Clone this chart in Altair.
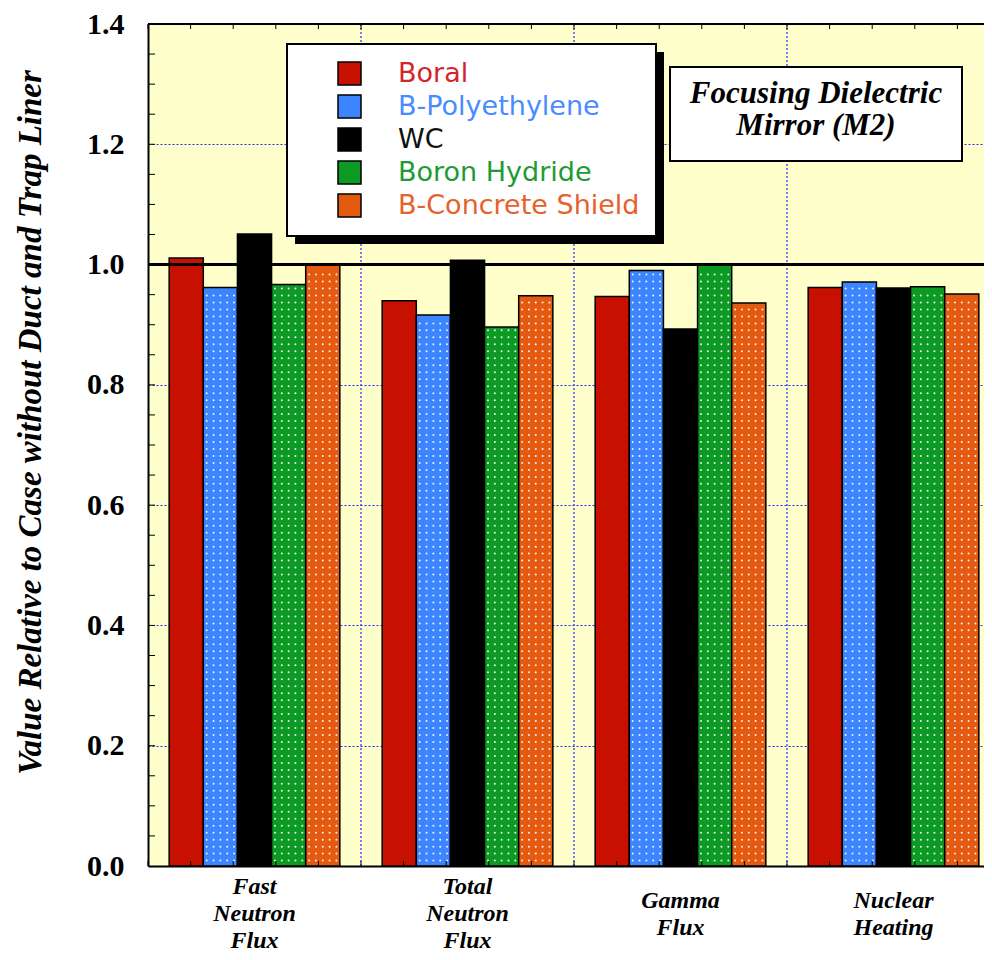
import altair as alt
import pandas as pd

# ---------------- data ----------------
groups = ["Fast Neutron Flux", "Total Neutron Flux", "Gamma Flux", "Nuclear Heating"]
materials = ["Boral", "B-Polyethylene", "WC", "Boron Hydride", "B-Concrete Shield"]
boral = [1.011, 0.940, 0.947, 0.962]
b_polyethylene = [0.962, 0.916, 0.990, 0.971]
wc = [1.051, 1.007, 0.893, 0.961]
boron_hydride = [0.967, 0.896, 0.999, 0.963]
b_concrete = [0.999, 0.948, 0.936, 0.951]
dotted_materials = ["B-Polyethylene", "Boron Hydride", "B-Concrete Shield"]
y_tick_values = [0.0, 0.2, 0.4, 0.6, 0.8, 1.0, 1.2, 1.4]
reference_level = [1.0]
note_lines = ["Focusing Dielectric", "Mirror (M2)"]
y_title = "Value Relative to Case without Duct and Trap Liner"

bar_colors = ["#c81000", "#3d85ff", "#000000", "#0c9a24", "#e45a10"]
label_colors = ["#d2262a", "#4a8cff", "#111111", "#1e9b34", "#e8602c"]

series = [boral, b_polyethylene, wc, boron_hydride, b_concrete]
rows = []
for m, vals in zip(materials, series):
    for g, v in zip(groups, vals):
        rows.append({"group": g, "material": m, "value": v})
df = pd.DataFrame(rows)

W, H = 836, 842
GRID_BLUE = "#2a2aff"
SERIF = "Liberation Serif"
PAD_OUT = 0.62

x_scale = alt.Scale(domain=groups, range=[0, 852], paddingInner=0, paddingOuter=0)
xoff_scale = alt.Scale(domain=materials, paddingInner=0, paddingOuter=PAD_OUT)
y_scale = alt.Scale(domain=[0, 1.4], nice=False, zero=True)

label_color_expr = " : ".join(
    [f"datum.label == '{m}' ? '{c}'" for m, c in zip(materials[:-1], label_colors[:-1])]
) + f" : '{label_colors[-1]}'"

x_axis = alt.Axis(
    labels=False, ticks=False, tickSize=0, domainColor="black", domainWidth=2,
    grid=False, title=None,
)
y_axis = alt.Axis(
    values=y_tick_values, format=".1f",
    labelFont=SERIF, labelFontWeight="bold", labelFontSize=30,
    labelColor="black", labelPadding=24,
    ticks=False, tickSize=0, domainColor="black", domainWidth=2,
    grid=True, gridColor=GRID_BLUE, gridDash=[2, 2], gridWidth=1.2,
    title=y_title, titleFont=SERIF, titleFontStyle="italic",
    titleFontWeight="bold", titleFontSize=33, titleColor="black",
    titleX=-118, titleY=398, titleAngle=270, titleAlign="center",
    titleBaseline="middle",
)

# vertical dotted grid at group boundaries
vgrid = alt.Chart(pd.DataFrame({"group": groups[1:]})).mark_rule(
    color=GRID_BLUE, strokeDash=[2, 2], strokeWidth=1.2
).encode(x=alt.X("group:N", scale=x_scale, bandPosition=0, axis=x_axis, title=None))

bars = alt.Chart(df).mark_bar(stroke="black", strokeWidth=1.5).encode(
    x=alt.X("group:N", scale=x_scale, axis=x_axis, title=None),
    xOffset=alt.XOffset("material:N", scale=xoff_scale),
    y=alt.Y("value:Q", scale=y_scale, axis=y_axis, title=y_title),
    color=alt.Color(
        "material:N",
        scale=alt.Scale(domain=materials, range=bar_colors),
        legend=alt.Legend(
            title=None, orient="none", legendX=139, legendY=20,
            symbolType="square", symbolSize=529,
            symbolStrokeColor="black", symbolStrokeWidth=1.5,
            symbolOffset=33, labelOffset=35,
            labelFont="DejaVu Sans", labelFontSize=27,
            labelColor={"expr": label_color_expr},
            labelLimit=400, padding=16, rowPadding=4,
            fillColor="white", strokeColor="black",
        ),
    ),
)

# white dot texture on the patterned materials (5 columns per bar)
n_mat = len(materials)
mat_list = "[" + ", ".join(f"'{m}'" for m in materials) + "]"
dots = (
    alt.Chart(df)
    .transform_filter(alt.FieldOneOfPredicate(field="material", oneOf=dotted_materials))
    .transform_calculate(col="sequence(0, 5)")
    .transform_flatten(["col"])
    .transform_calculate(
        xo=f"{PAD_OUT} + indexof({mat_list}, datum.material) + (datum.col + 0.5) / 5",
        dy="sequence(0.009, datum.value - 0.005, 0.0116)",
    )
    .transform_flatten(["dy"])
    .mark_point(filled=True, color="white", size=4, opacity=0.9)
    .encode(
        x=alt.X("group:N", scale=x_scale, bandPosition=0, title=None),
        xOffset=alt.XOffset("xo:Q", scale=alt.Scale(domain=[0, n_mat + 2 * PAD_OUT], nice=False, zero=False)),
        y=alt.Y("dy:Q", scale=y_scale, title=y_title),
    )
)

# small inward ticks on top and bottom frame, 5 per group
tick_base = (
    alt.Chart(pd.DataFrame({"group": groups}))
    .transform_calculate(j="sequence(0, 5)")
    .transform_flatten(["j"])
)
tick_x = alt.X("group:N", scale=x_scale, bandPosition=0, title=None)
tick_off = alt.XOffset("j:Q", scale=alt.Scale(domain=[0, 5], nice=False, zero=True))
top_ticks = tick_base.mark_rule(color="black", strokeWidth=1).encode(
    x=tick_x, xOffset=tick_off, y=alt.value(0), y2=alt.value(5)
)
bottom_ticks = tick_base.mark_rule(color="black", strokeWidth=1).encode(
    x=tick_x, xOffset=tick_off, y=alt.value(H - 5), y2=alt.value(H)
)

# category labels under the axis (multi-line, vertically centred)
label_base = alt.Chart(pd.DataFrame({"group": groups})).transform_calculate(
    lines="split(datum.group, ' ')", n="length(split(datum.group, ' '))"
)
label_style = dict(
    font=SERIF, fontSize=24, fontStyle="italic", fontWeight="bold",
    lineHeight=27, align="center", baseline="top", color="black",
)
labels3 = label_base.transform_filter("datum.n == 3").mark_text(**label_style).encode(
    x=alt.X("group:N", scale=x_scale, title=None), y=alt.value(H + 9), text="lines:N"
)
labels2 = label_base.transform_filter("datum.n == 2").mark_text(**label_style).encode(
    x=alt.X("group:N", scale=x_scale, title=None), y=alt.value(H + 22.5), text="lines:N"
)

# inward minor ticks on the left frame
yticks = alt.Chart(alt.sequence(0.05, 1.4, 0.05, as_="t")).mark_rule(
    color="black", strokeWidth=1
).encode(y=alt.Y("t:Q", scale=y_scale, title=y_title), x=alt.value(0), x2=alt.value(7))

ref_rule = alt.Chart(pd.DataFrame({"level": reference_level})).mark_rule(
    color="black", strokeWidth=3
).encode(y=alt.Y("level:Q", scale=y_scale, title=y_title))

top_border = alt.Chart(pd.DataFrame({"top": [1.4]})).mark_rule(
    color="black", strokeWidth=2
).encode(y=alt.Y("top:Q", scale=y_scale, title=y_title))

one = pd.DataFrame({"k": [0]})
shadow = alt.Chart(one).mark_rect(color="black").encode(
    x=alt.value(147), x2=alt.value(516), y=alt.value(28), y2=alt.value(220)
)
note_box = alt.Chart(one).mark_rect(fill="white", stroke="black", strokeWidth=2).encode(
    x=alt.value(522), x2=alt.value(814), y=alt.value(43), y2=alt.value(137)
)
note_text = alt.Chart(one).mark_text(
    text=note_lines, font=SERIF, fontSize=31, fontStyle="italic", fontWeight="bold",
    lineHeight=32, align="center", baseline="middle", color="black",
).encode(x=alt.value(668), y=alt.value(70))

chart = (
    alt.layer(vgrid, bars, dots, top_ticks, bottom_ticks, labels3, labels2, yticks,
              ref_rule, top_border, shadow, note_box, note_text)
    .resolve_scale(xOffset="independent")
    .properties(
        width=W, height=H,
        padding={"left": 140, "top": 16, "right": 0, "bottom": 86},
        autosize=alt.AutoSizeParams(type="none"),
        background="white",
    )
    .configure_view(fill="#ffffcc", strokeWidth=0)
    .configure_legend(strokeWidth=2)
)

chart.save("out.html", embed_options={"renderer": "svg", "actions": False})
